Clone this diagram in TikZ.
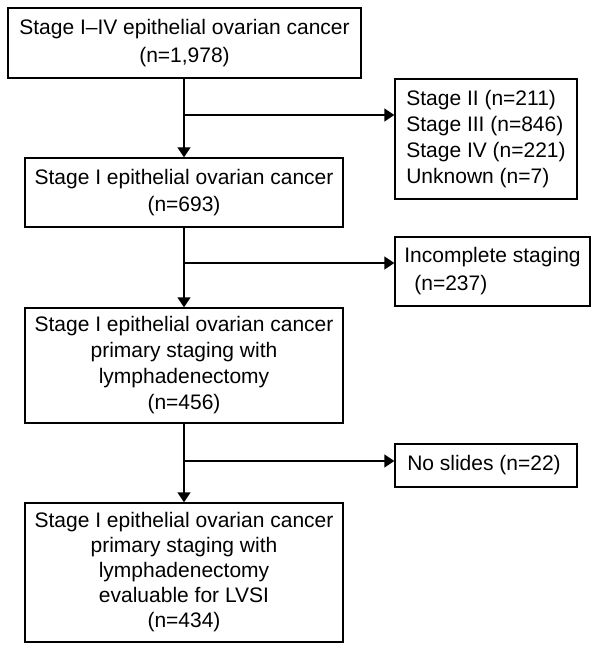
\documentclass[tikz,border=0pt]{standalone}
\usepackage{fontspec}
\setmainfont{Liberation Sans}
\usetikzlibrary{arrows.meta}
\begin{document}
\begin{tikzpicture}[x=1pt,y=-1pt,
  box/.style={draw, line width=1.4pt, inner sep=0pt, align=center,
    font=\fontsize{21}{26}\selectfont},
  sidebox/.style={draw, line width=1.4pt, inner sep=0pt, align=left,
    font=\fontsize{21}{26}\selectfont},
  conn/.style={line width=1.4pt, -{Triangle[width=13pt,length=10pt]}}]
\useasboundingbox (0,0) rectangle (599,652);

\node[box, minimum width=353pt, minimum height=70pt, font=\fontsize{21}{28}\selectfont] (b1) at (184.5,43)
  {Stage I–IV epithelial ovarian cancer\\(n=1,978)};
\node[sidebox, minimum width=182pt, minimum height=120pt] (b2) at (486,139)
  {Stage II (n=211)\\Stage III (n=846)\\Stage IV (n=221)\\Unknown (n=7)};
\node[box, minimum width=318pt, minimum height=69pt, font=\fontsize{21}{27}\selectfont] (b3) at (184,192.5)
  {Stage I epithelial ovarian cancer\\(n=693)};
\node[sidebox, minimum width=195pt, minimum height=69pt, font=\fontsize{21}{28}\selectfont] (b4) at (492.5,271.5)
  {Incomplete staging\\\hspace*{10pt}(n=237)};
\node[box, minimum width=318pt, minimum height=115pt] (b5) at (184,365.5)
  {Stage I epithelial ovarian cancer\\primary staging with\\lymphadenectomy\\(n=456)};
\node[sidebox, minimum width=182pt, minimum height=43pt] (b6) at (486,465.5)
  {No slides (n=22)\hspace*{4pt}};
\node[box, minimum width=318pt, minimum height=139pt, font=\fontsize{21}{25}\selectfont] (b7) at (184,572.5)
  {Stage I epithelial ovarian cancer\\primary staging with\\lymphadenectomy\\evaluable for LVSI\\(n=434)};

\coordinate (j1) at (184,115);
\coordinate (j2) at (184,263);
\coordinate (j3) at (184,461);

\draw[conn] (b1.south -| b3.north) -- (b3.north);
\draw[conn] (j1) -- (j1 -| b2.west);
\draw[conn] (b3.south) -- (b5.north);
\draw[conn] (j2) -- (j2 -| b4.west);
\draw[conn] (b5.south) -- (b7.north);
\draw[conn] (j3) -- (j3 -| b6.west);
\end{tikzpicture}
\end{document}
